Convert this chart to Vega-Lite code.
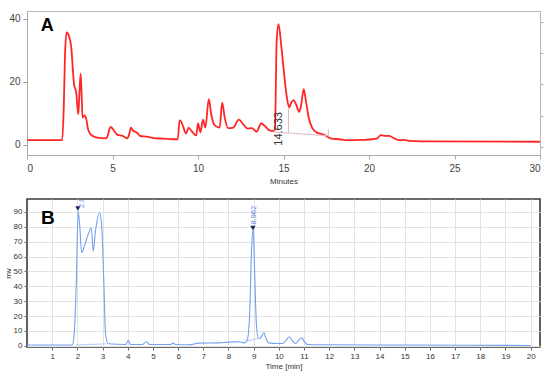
{
  "$schema": "https://vega.github.io/schema/vega-lite/v6.json",
  "padding": {"left": 3, "top": 10, "right": 5, "bottom": 0},
  "spacing": 12,
  "config": {"font": "Liberation Sans", "axis": {"labelFont": "Liberation Sans", "titleFont": "Liberation Sans"}},
  "datasets": {
    "a": [
      {"t":0,"v":1.5},{"t":1.0,"v":1.5},{"t":2.06,"v":1.5},{"t":2.15,"v":12},{"t":2.22,"v":28},{"t":2.31,"v":35.7},{"t":2.45,"v":34.6},{"t":2.59,"v":30.9},{"t":2.68,"v":24},{"t":2.75,"v":19.3},{"t":2.88,"v":16.6},{"t":2.95,"v":12},{"t":3.0,"v":9.7},{"t":3.07,"v":17},{"t":3.14,"v":22.6},{"t":3.2,"v":15},{"t":3.25,"v":8.7},{"t":3.37,"v":9.4},{"t":3.47,"v":8.1},{"t":3.57,"v":5.0},{"t":3.7,"v":3.5},{"t":3.82,"v":2.9},{"t":4.12,"v":2.3},{"t":4.61,"v":2.1},{"t":4.71,"v":2.8},{"t":4.82,"v":5.0},{"t":4.9,"v":5.7},{"t":5.0,"v":5.2},{"t":5.1,"v":4.4},{"t":5.29,"v":3.2},{"t":5.59,"v":2.9},{"t":5.88,"v":2.1},{"t":5.98,"v":3.5},{"t":6.08,"v":5.5},{"t":6.2,"v":4.5},{"t":6.32,"v":4.2},{"t":6.45,"v":3.8},{"t":6.6,"v":2.9},{"t":7.0,"v":2.6},{"t":7.5,"v":2.1},{"t":8.0,"v":2.0},{"t":8.5,"v":1.8},{"t":8.82,"v":1.8},{"t":8.92,"v":7.8},{"t":9.0,"v":7.5},{"t":9.12,"v":6.0},{"t":9.31,"v":3.6},{"t":9.45,"v":5.5},{"t":9.65,"v":4.2},{"t":9.9,"v":3.0},{"t":10.0,"v":6.8},{"t":10.14,"v":4.0},{"t":10.29,"v":8.0},{"t":10.43,"v":5.5},{"t":10.63,"v":14.5},{"t":10.78,"v":9.5},{"t":10.98,"v":6.2},{"t":11.27,"v":5.5},{"t":11.41,"v":13.4},{"t":11.57,"v":8.5},{"t":11.76,"v":5.3},{"t":12.06,"v":5.5},{"t":12.39,"v":8.0},{"t":12.65,"v":6.5},{"t":12.9,"v":5.2},{"t":13.14,"v":5.3},{"t":13.43,"v":4.2},{"t":13.69,"v":6.8},{"t":13.92,"v":6.0},{"t":14.16,"v":4.7},{"t":14.41,"v":4.4},{"t":14.5,"v":5.0},{"t":14.6,"v":33},{"t":14.71,"v":38.3},{"t":14.86,"v":32},{"t":15.0,"v":24.5},{"t":15.2,"v":15.0},{"t":15.33,"v":11.9},{"t":15.45,"v":13.4},{"t":15.59,"v":14.2},{"t":15.73,"v":12.9},{"t":15.92,"v":10.5},{"t":16.04,"v":12.9},{"t":16.18,"v":17.7},{"t":16.31,"v":14.0},{"t":16.47,"v":8.7},{"t":16.67,"v":5.5},{"t":16.96,"v":3.9},{"t":17.25,"v":3.4},{"t":17.49,"v":2.9},{"t":17.75,"v":2.1},{"t":18.24,"v":1.8},{"t":18.8,"v":1.5},{"t":19.6,"v":1.6},{"t":20.2,"v":1.8},{"t":20.49,"v":2.1},{"t":20.69,"v":3.1},{"t":20.88,"v":2.9},{"t":21.18,"v":2.9},{"t":21.47,"v":2.1},{"t":21.76,"v":1.5},{"t":22.06,"v":1.6},{"t":22.35,"v":1.3},{"t":23.9,"v":1.1},{"t":30,"v":1.0}
    ],
    "aDrops": [
      {"t":15.29,"v":3.9,"v2":11.9},
      {"t":17.62,"v":2.9,"v2":5.0}
    ],
    "aBase": [
      {"t":14.41,"v":4.1},{"t":17.65,"v":2.9}
    ],
    "aRight": [
      {"v":-0.6},{"v":39}
    ],
    "aText": [
      {"t":14.75,"v":5.1,"label":"14.633"}
    ],
    "aLetter": [
      {"t":1.18,"v":36.2,"label":"A"}
    ],
    "b": [
      {"t":0,"v":0.5},{"t":1.8,"v":0.5},{"t":1.86,"v":5.4},{"t":1.96,"v":43.5},{"t":2.03,"v":90.5},{"t":2.09,"v":81.7},{"t":2.17,"v":62.6},{"t":2.3,"v":68.2},{"t":2.43,"v":74.9},{"t":2.55,"v":79.4},{"t":2.63,"v":63.7},{"t":2.72,"v":77.2},{"t":2.88,"v":89.5},{"t":2.96,"v":81.7},{"t":3.05,"v":43.5},{"t":3.12,"v":7.6},{"t":3.23,"v":1.4},{"t":3.92,"v":0.9},{"t":4.02,"v":3.6},{"t":4.11,"v":0.9},{"t":4.58,"v":0.9},{"t":4.74,"v":2.7},{"t":4.87,"v":0.9},{"t":5.7,"v":0.9},{"t":5.8,"v":1.8},{"t":5.9,"v":0.9},{"t":6.43,"v":0.7},{"t":6.83,"v":1.8},{"t":7.62,"v":2.0},{"t":8.02,"v":2.5},{"t":8.42,"v":2.7},{"t":8.62,"v":2.0},{"t":8.75,"v":4.3},{"t":8.84,"v":21},{"t":8.92,"v":66},{"t":8.98,"v":79.4},{"t":9.03,"v":54.8},{"t":9.11,"v":14.4},{"t":9.19,"v":4.9},{"t":9.28,"v":5.4},{"t":9.41,"v":8.8},{"t":9.48,"v":5.4},{"t":9.59,"v":2.0},{"t":10.01,"v":1.6},{"t":10.14,"v":1.6},{"t":10.27,"v":3.2},{"t":10.41,"v":6.1},{"t":10.54,"v":3.2},{"t":10.67,"v":1.6},{"t":10.78,"v":3.6},{"t":10.9,"v":5.4},{"t":11.0,"v":3.2},{"t":11.14,"v":0.9},{"t":11.6,"v":0.7},{"t":15,"v":0.5},{"t":20.0,"v":0.25}
    ],
    "bBase": [
      {"seg":"1","t":1.95,"v":0.6},{"seg":"1","t":3.15,"v":1.3},
      {"seg":"2","t":8.72,"v":3.3},{"seg":"2","t":9.3,"v":5.3}
    ],
    "bPeaks": [
      {"t":2.02,"v":92.3,"lt":2.2,"lv":92.7,"label":"2.036"},
      {"t":8.97,"v":79.2,"lt":9.0,"lv":81.5,"label":"8.962"}
    ],
    "bLetter": [
      {"t":0.83,"v":81.9,"label":"B"}
    ]
  },
  "vconcat": [
    {
      "width": 513,
      "height": 144,
      "view": {"stroke": "#b8b8b8", "strokeWidth": 1},
      "layer": [
        {
          "layer": [
            {
              "data": {"name": "a"},
              "mark": {"type": "line", "color": "#ff2626", "strokeWidth": 1.8, "interpolate": "monotone"},
              "encoding": {
                "x": {"field": "t", "type": "quantitative", "scale": {"domain": [0, 30], "nice": false},
                  "axis": {"values": [0,5,10,15,20,25,30], "tickCount": 20, "format": "d", "title": "Minutes", "titleFontSize": 8, "titleFontWeight": "normal", "titleColor": "#333", "titlePadding": 4, "labelFontSize": 10, "labelColor": "#444", "labelPadding": 4, "tickSize": 4, "tickColor": "#aaa", "domainColor": "#aaa", "grid": false, "labelOverlap": false}},
                "y": {"field": "v", "type": "quantitative", "scale": {"domain": [-3.2, 42.5], "nice": false, "zero": false},
                  "axis": {"values": [0, 20, 40], "tickCount": 10, "format": "d", "title": null, "labelFontSize": 10, "labelColor": "#444", "labelPadding": 3, "tickSize": 4, "tickColor": "#999", "domainColor": "#aaa", "grid": false}}
              }
            },
            {
              "data": {"name": "aDrops"},
              "mark": {"type": "rule", "color": "#e8b8a8", "strokeWidth": 1},
              "encoding": {
                "x": {"field": "t", "type": "quantitative"},
                "y": {"field": "v", "type": "quantitative"},
                "y2": {"field": "v2"}
              }
            },
            {
              "data": {"name": "aBase"},
              "mark": {"type": "line", "color": "#e0b8c0", "strokeWidth": 1},
              "encoding": {
                "x": {"field": "t", "type": "quantitative"},
                "y": {"field": "v", "type": "quantitative"}
              }
            },
            {
              "data": {"name": "aText"},
              "mark": {"type": "text", "angle": 270, "fontSize": 11, "color": "#333", "baseline": "middle", "align": "center"},
              "encoding": {
                "x": {"field": "t", "type": "quantitative"},
                "y": {"field": "v", "type": "quantitative"},
                "text": {"field": "label"}
              }
            },
            {
              "data": {"name": "aLetter"},
              "mark": {"type": "text", "fontSize": 18, "fontWeight": "bold", "color": "#000", "baseline": "alphabetic", "align": "center"},
              "encoding": {
                "x": {"field": "t", "type": "quantitative"},
                "y": {"field": "v", "type": "quantitative"},
                "text": {"field": "label"}
              }
            }
          ]
        },
        {
          "data": {"name": "aRight"},
          "mark": {"type": "rule", "opacity": 0},
          "encoding": {
            "y": {"field": "v", "type": "quantitative", "scale": {"domain": [-3.2, 42.5], "nice": false, "zero": false},
              "axis": {"orient": "right", "values": [-0.6, 9.2, 19.4, 29.2, 39], "tickCount": 10, "labels": false, "title": null, "tickSize": 3, "tickColor": "#aaa", "domainColor": "#b8b8b8", "grid": false}}
          }
        }
      ],
      "resolve": {"scale": {"y": "independent"}}
    },
    {
      "width": 513,
      "height": 148,
      "view": {"stroke": "#3a3a3a", "strokeWidth": 1.6},
      "layer": [
        {
          "data": {"name": "b"},
          "mark": {"type": "line", "color": "#74a0ee", "strokeWidth": 1.1, "interpolate": "monotone"},
          "encoding": {
            "x": {"field": "t", "type": "quantitative", "scale": {"domain": [0, 20.37], "nice": false},
              "axis": {"values": [1,2,3,4,5,6,7,8,9,10,11,12,13,14,15,16,17,18,19,20], "tickCount": 30, "format": "d", "labelOverlap": false, "title": "Time [min]", "titleFontSize": 8, "titleFontWeight": "normal", "titleColor": "#333", "titlePadding": 2, "labelFontSize": 8, "labelColor": "#333", "labelPadding": 2, "tickSize": 3, "tickColor": "#666", "domain": false, "grid": true, "gridColor": "#e2e2e2"}},
            "y": {"field": "v", "type": "quantitative", "scale": {"domain": [-0.8, 98.7], "nice": false, "zero": false},
              "axis": {"values": [0,10,20,30,40,50,60,70,80,90], "tickCount": 20, "format": "d", "labelOverlap": false, "title": "mv", "titleFontSize": 8, "titleFontWeight": "normal", "titleColor": "#333", "titlePadding": 1, "labelFontSize": 8, "labelColor": "#333", "labelPadding": 2, "tickSize": 3, "tickColor": "#666", "domain": false, "grid": true, "gridColor": "#e2e2e2"}}
          }
        },
        {
          "data": {"name": "bBase"},
          "mark": {"type": "line", "color": "#9fbdf2", "strokeWidth": 0.8},
          "encoding": {
            "x": {"field": "t", "type": "quantitative"},
            "y": {"field": "v", "type": "quantitative"},
            "detail": {"field": "seg"}
          }
        },
        {
          "data": {"name": "bPeaks"},
          "mark": {"type": "point", "shape": "triangle-down", "filled": true, "color": "#1c2850", "size": 28, "opacity": 1},
          "encoding": {
            "x": {"field": "t", "type": "quantitative"},
            "y": {"field": "v", "type": "quantitative"}
          }
        },
        {
          "data": {"name": "bPeaks"},
          "mark": {"type": "text", "angle": 270, "fontSize": 7.5, "color": "#5a86e0", "baseline": "middle", "align": "left", "clip": true},
          "encoding": {
            "x": {"field": "lt", "type": "quantitative"},
            "y": {"field": "lv", "type": "quantitative"},
            "text": {"field": "label"}
          }
        },
        {
          "data": {"name": "bLetter"},
          "mark": {"type": "text", "fontSize": 19, "fontWeight": "bold", "color": "#000", "baseline": "alphabetic", "align": "center"},
          "encoding": {
            "x": {"field": "t", "type": "quantitative"},
            "y": {"field": "v", "type": "quantitative"},
            "text": {"field": "label"}
          }
        }
      ]
    }
  ]
}
